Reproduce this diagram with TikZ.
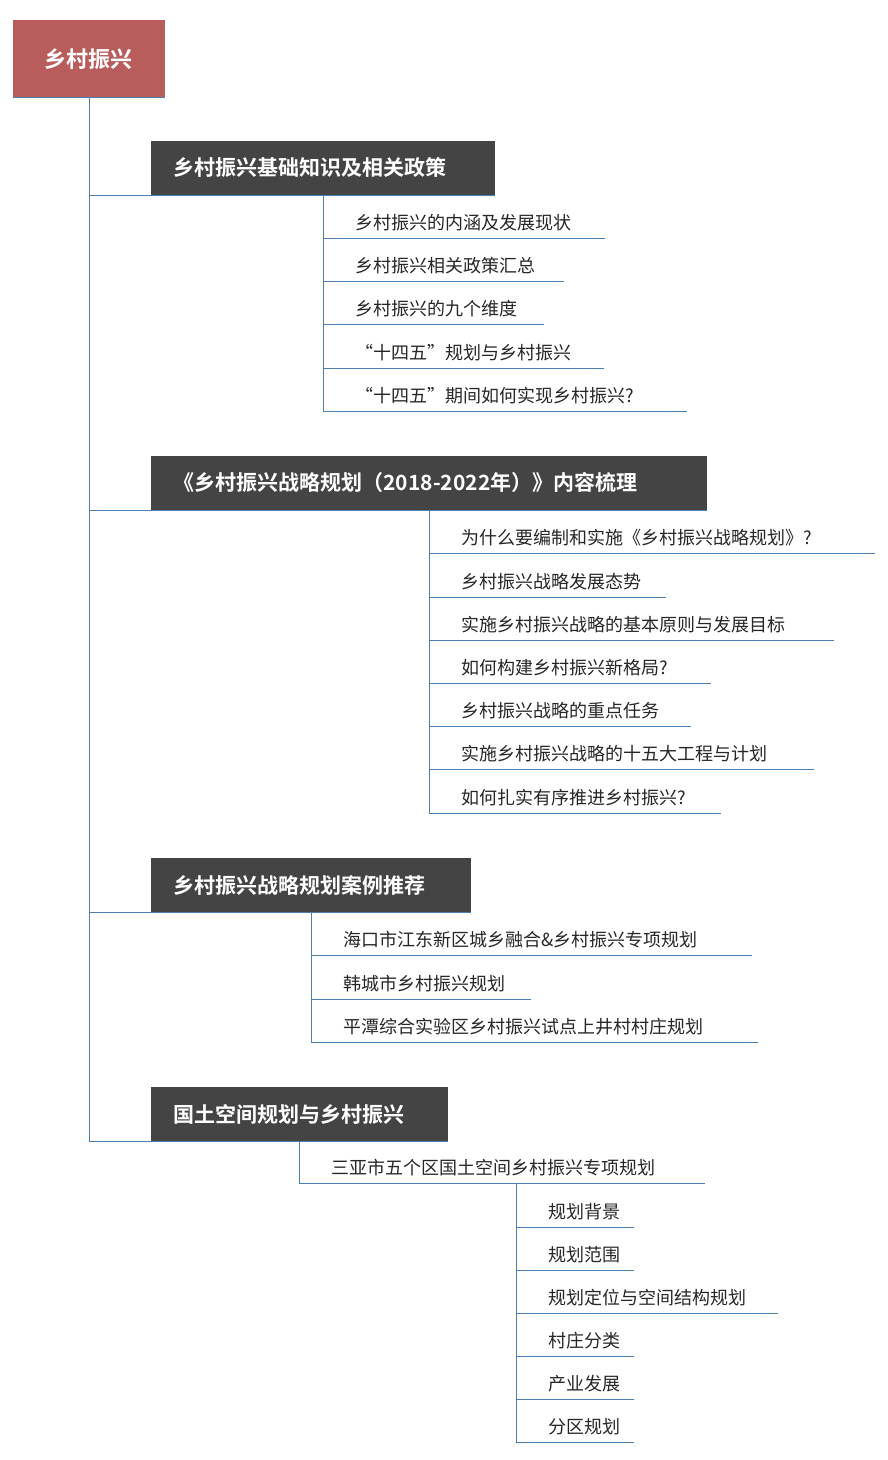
\documentclass[tikz,border=0pt]{standalone}
\usepackage{fontspec}
\setmainfont{Noto Sans CJK SC}
\newfontfamily\cjkb{Noto Sans CJK SC Bold}
\definecolor{ln}{HTML}{4A7FB0}
\definecolor{dk}{HTML}{444444}
\definecolor{rt}{HTML}{B85C5C}
\begin{document}
\begin{tikzpicture}[x=1pt,y=-1pt,
  lk/.style={draw=ln,line width=0.9pt},
  hbox/.style={fill=dk,text=white,font=\cjkb\fontsize{21}{24}\selectfont,anchor=west,inner sep=0pt},
  it/.style={anchor=west,font=\fontsize{18}{21}\selectfont,text=black!85,inner sep=0pt}]
\useasboundingbox (0,0) rectangle (887,1460);
% root
\fill[rt] (13,20) rectangle (165,97);
\node[font=\cjkb\fontsize{22}{24}\selectfont,text=white] (root) at (89,59) {乡村振兴};
\draw[lk] (13,97) -- (165,97);
\coordinate (rb) at (89,97);
% level 1 boxes
\newcommand\hb[5]{\fill[dk] (151,#2) rectangle (#3,#2+54);
  \node[font=\cjkb\fontsize{21}{24}\selectfont,text=white,anchor=west] (#1) at (170,#2+27) {#4};
  \coordinate (#1u) at (#3,#2+54);
  \coordinate (#1l) at (89,#2+54);
  \draw[lk] (#1l) -- (#1u);}
\hb{a}{141}{495}{乡村振兴基础知识及相关政策}{}
\hb{b}{456}{707}{《乡村振兴战略规划（2018-2022年）》内容梳理}{}
\hb{c}{858}{471}{乡村振兴战略规划案例推荐}{}
\hb{d}{1087}{448}{国土空间规划与乡村振兴}{}
\draw[lk] (rb) -- (dl);
% items: name, xline, ytext, xend, text
\newcommand\itm[5]{\node[it] (#1) at (#2+32,#3) {#5};
  \coordinate (#1a) at (#2,#3+15); \coordinate (#1b) at (#4,#3+15);
  \draw[lk] (#1a) -- (#1b);}
\itm{a1}{323}{223}{605}{乡村振兴的内涵及发展现状}
\itm{a2}{323}{266}{564}{乡村振兴相关政策汇总}
\itm{a3}{323}{309}{544}{乡村振兴的九个维度}
\itm{a4}{323}{353}{604}{“十四五”规划与乡村振兴}
\itm{a5}{323}{396}{687}{“十四五”期间如何实现乡村振兴?}
\draw[lk] (323,195) -- (a5a);
\itm{b1}{429}{538}{875}{为什么要编制和实施《乡村振兴战略规划》?}
\itm{b2}{429}{582}{666}{乡村振兴战略发展态势}
\itm{b3}{429}{625}{834}{实施乡村振兴战略的基本原则与发展目标}
\itm{b4}{429}{668}{711}{如何构建乡村振兴新格局?}
\itm{b5}{429}{711}{691}{乡村振兴战略的重点任务}
\itm{b6}{429}{754}{814}{实施乡村振兴战略的十五大工程与计划}
\itm{b7}{429}{798}{721}{如何扎实有序推进乡村振兴?}
\draw[lk] (429,510) -- (b7a);
\itm{c1}{311}{940}{752}{海口市江东新区城乡融合\&乡村振兴专项规划}
\itm{c2}{311}{984}{531}{韩城市乡村振兴规划}
\itm{c3}{311}{1027}{758}{平潭综合实验区乡村振兴试点上井村村庄规划}
\draw[lk] (311,912) -- (c3a);
\itm{d1}{299}{1168}{705}{三亚市五个区国土空间乡村振兴专项规划}
\draw[lk] (299,1141) -- (d1a);
\itm{e1}{516}{1212}{634}{规划背景}
\itm{e2}{516}{1255}{634}{规划范围}
\itm{e3}{516}{1298}{778}{规划定位与空间结构规划}
\itm{e4}{516}{1341}{634}{村庄分类}
\itm{e5}{516}{1384}{634}{产业发展}
\itm{e6}{516}{1427}{634}{分区规划}
\draw[lk] (516,1184) -- (e6a);
\end{tikzpicture}
\end{document}
